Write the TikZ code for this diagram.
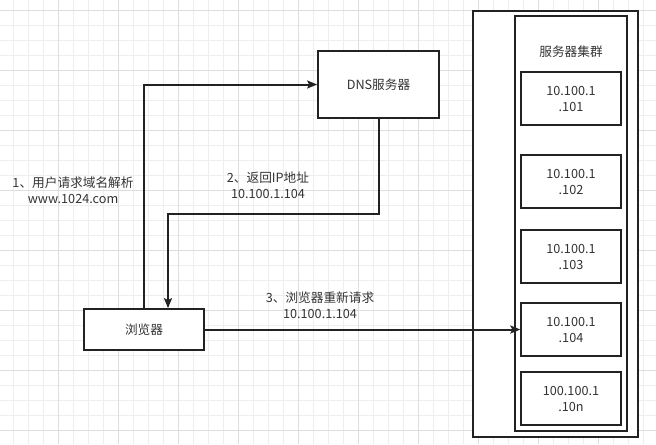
\documentclass[tikz,border=0pt]{standalone}
\usepackage{fontspec}
\newfontfamily\cjk{Noto Sans CJK SC}
\usetikzlibrary{arrows.meta}

\definecolor{gridminor}{RGB}{238,238,238}
\definecolor{gridmajor}{RGB}{222,222,222}
\definecolor{inkline}{RGB}{34,34,34}
\definecolor{inktext}{RGB}{51,51,51}

\tikzset{every picture/.style={line width=0.75pt}}
\tikzset{
  txt/.style={text=inktext, font=\cjk\fontsize{9.5}{12}\selectfont, align=center, inner sep=0pt},
  box/.style={txt, draw=inkline, fill=white, line width=1.5},
  dnsbox/.style={box, minimum width=90.5pt, minimum height=50.5pt},
  webbox/.style={box, minimum width=90.5pt, minimum height=30.5pt},
  ipbox/.style={box, minimum width=74.5pt, minimum height=39.5pt},
  frame/.style={draw=inkline, fill=white, line width=1.5},
  link/.style={draw=inkline, line width=1.5, -{Stealth[length=7.5pt,width=6pt,inset=1.5pt]}}
}

\begin{document}
\begin{tikzpicture}[x=0.75pt,y=0.75pt,yscale=-1,xscale=1]
\useasboundingbox (0,0) rectangle (656,444);

%Grid
\foreach \x in {13.3,28.3,...,658} \draw [gridminor] (\x,0) -- (\x,444) ;
\foreach \y in {10,25,...,444} \draw [gridminor] (0,\y) -- (656,\y) ;
\foreach \x in {58.3,118.3,...,658} \draw [gridmajor] (\x,0) -- (\x,444) ;
\foreach \y in {10,70,...,444} \draw [gridmajor] (0,\y) -- (656,\y) ;

%Shape: Rectangle (outer frame)
\draw [frame] (473,11) rectangle (638,437) ;
%Shape: Rectangle (server cluster)
\draw [frame] (515,16) rectangle (627,431) ;

% Text Node
\node [txt] (cluster) at (571,52) {服务器集群};

%Servers
\node [ipbox] (s101) at (571,98.5) {10.100.1\\.101};
\node [ipbox] (s102) at (571,181.5) {10.100.1\\.102};
\node [ipbox] (s103) at (571,256.5) {10.100.1\\.103};
\node [ipbox] (s104) at (571,329.5) {10.100.1\\.104};
\node [ipbox] (s10n) at (571,398.5) {100.100.1\\.10n};

%DNS and browser
\node [dnsbox] (dns) at (378.5,84.5) {DNS服务器};
\node [webbox] (browser) at (144,329.5) {浏览器};

%Connectors
\coordinate (back) at (168,214) ;
\draw [link] (browser.north) |- (dns.west) ;
\draw [link] (dns.south) |- (back) -- (back |- browser.north) ;
\draw [link] (browser.east) -- (s104.west) ;

% Text Node
\node [txt] (ask) at (73,190) {1、用户请求域名解析\\www.1024.com};
% Text Node
\node [txt] (reply) at (268,185) {2、返回IP地址\\10.100.1.104};
% Text Node
\node [txt] (again) at (320,305) {3、浏览器重新请求\\10.100.1.104};

\end{tikzpicture}
\end{document}
